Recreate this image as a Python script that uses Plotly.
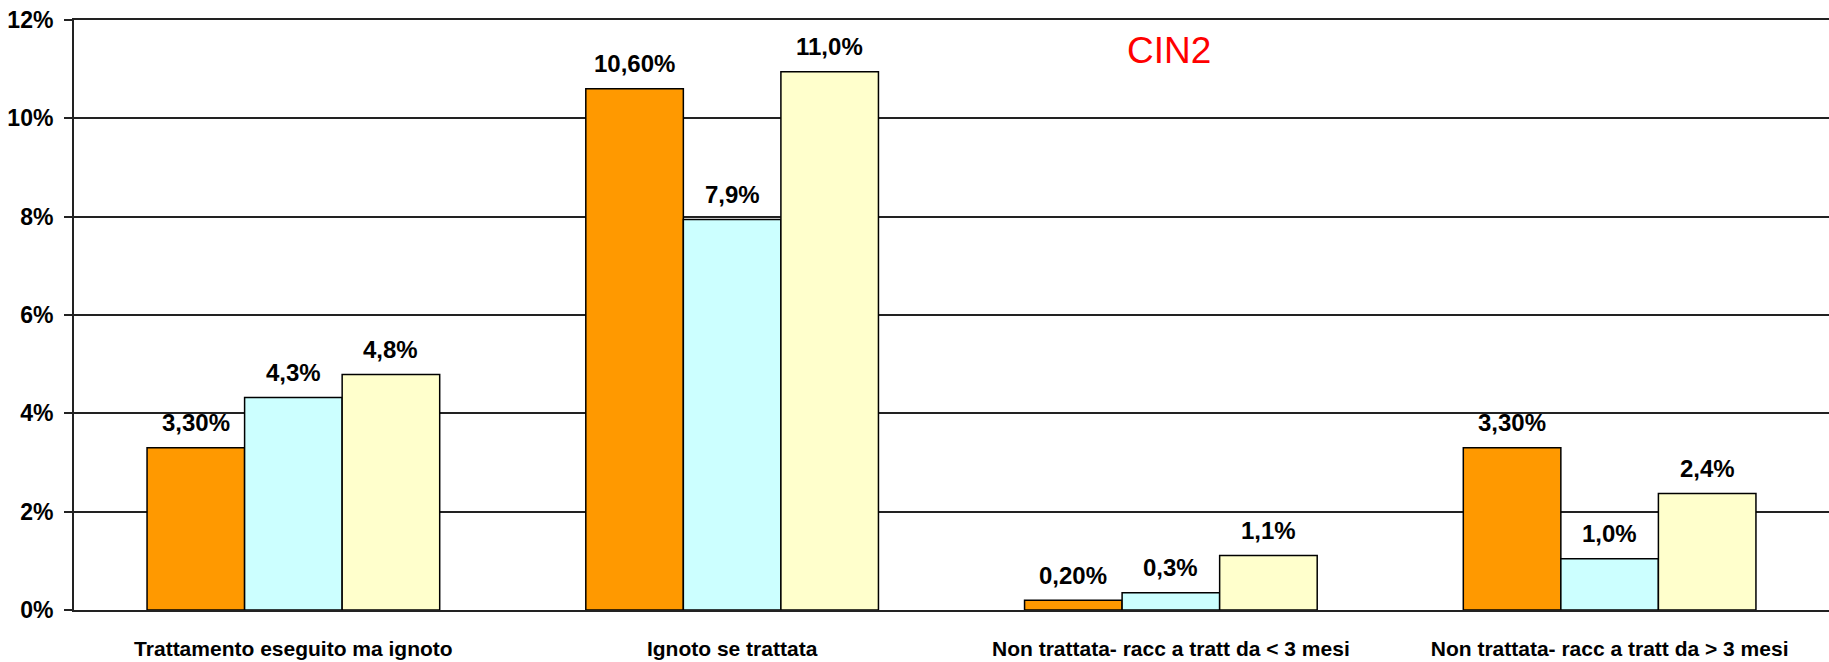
import plotly.graph_objects as go

# categorie e valori (%)
categorie = [
    "Trattamento eseguito ma ignoto",
    "Ignoto se trattata",
    "Non trattata- racc a tratt da < 3 mesi",
    "Non trattata- racc a tratt da > 3 mesi",
]
serie_a = [3.3, 10.6, 0.2, 3.3]
serie_b = [4.32, 7.94, 0.35, 1.04]
serie_c = [4.79, 10.95, 1.11, 2.37]

etich_a = ["3,30%", "10,60%", "0,20%", "3,30%"]
etich_b = ["4,3%", "7,9%", "0,3%", "1,0%"]
etich_c = ["4,8%", "11,0%", "1,1%", "2,4%"]

tick_val = [0, 2, 4, 6, 8, 10, 12]
tick_txt = ["0%", "2%", "4%", "6%", "8%", "10%", "12%"]

colori = ["#FF9900", "#CCFFFF", "#FFFFCC"]
FONT = "Liberation Sans, Arial, sans-serif"
BARGAP = 0.333

fig = go.Figure()
for vals, col in zip([serie_a, serie_b, serie_c], colori):
    fig.add_trace(go.Bar(
        x=categorie, y=vals,
        marker=dict(color=col, line=dict(color="black", width=1.5)),
        showlegend=False, hoverinfo="skip",
    ))

# etichette sopra le barre
w = (1 - BARGAP) / 3
for k, (vals, txts) in enumerate(zip([serie_a, serie_b, serie_c], [etich_a, etich_b, etich_c])):
    for i, (v, t) in enumerate(zip(vals, txts)):
        fig.add_annotation(
            x=i + (k - 1) * w, y=v, text="<b>" + t + "</b>",
            showarrow=False, yshift=25, yanchor="middle",
            font=dict(family=FONT, size=24, color="black"),
        )

fig.add_annotation(
    x=0.624, y=0.949, xref="paper", yref="paper", text="CIN2", showarrow=False,
    xanchor="center", yanchor="middle",
    font=dict(family=FONT, size=37, color="#FF0000"),
)

fig.update_layout(
    width=1829, height=662,
    barmode="group", bargap=BARGAP, bargroupgap=0,
    plot_bgcolor="white", paper_bgcolor="white",
    margin=dict(l=74, r=0, t=20, b=52),
    xaxis=dict(
        showline=True, linecolor="#222", linewidth=2, mirror=True,
        ticks="", tickfont=dict(family=FONT, size=21, color="black"),
        tickvals=categorie, ticktext=["<b>" + c + "</b>" for c in categorie],
        ticklabelstandoff=19,
    ),
    yaxis=dict(
        range=[0, 12], tickvals=tick_val, ticktext=["<b>" + t + "</b>" for t in tick_txt],
        showline=True, linecolor="#222", linewidth=2,
        ticks="outside", ticklen=8, tickcolor="#222", tickwidth=2,
        showgrid=True, gridcolor="#222", gridwidth=1.5,
        tickfont=dict(family=FONT, size=23, color="black"),
        ticklabelstandoff=6, ticklabeloverflow="allow",
        zeroline=False,
    ),
)

# niente margine di pagina attorno al grafico, niente modebar
fig.write_html("out.html", config={"displayModeBar": False},
               post_script="document.body.style.margin='0';")
